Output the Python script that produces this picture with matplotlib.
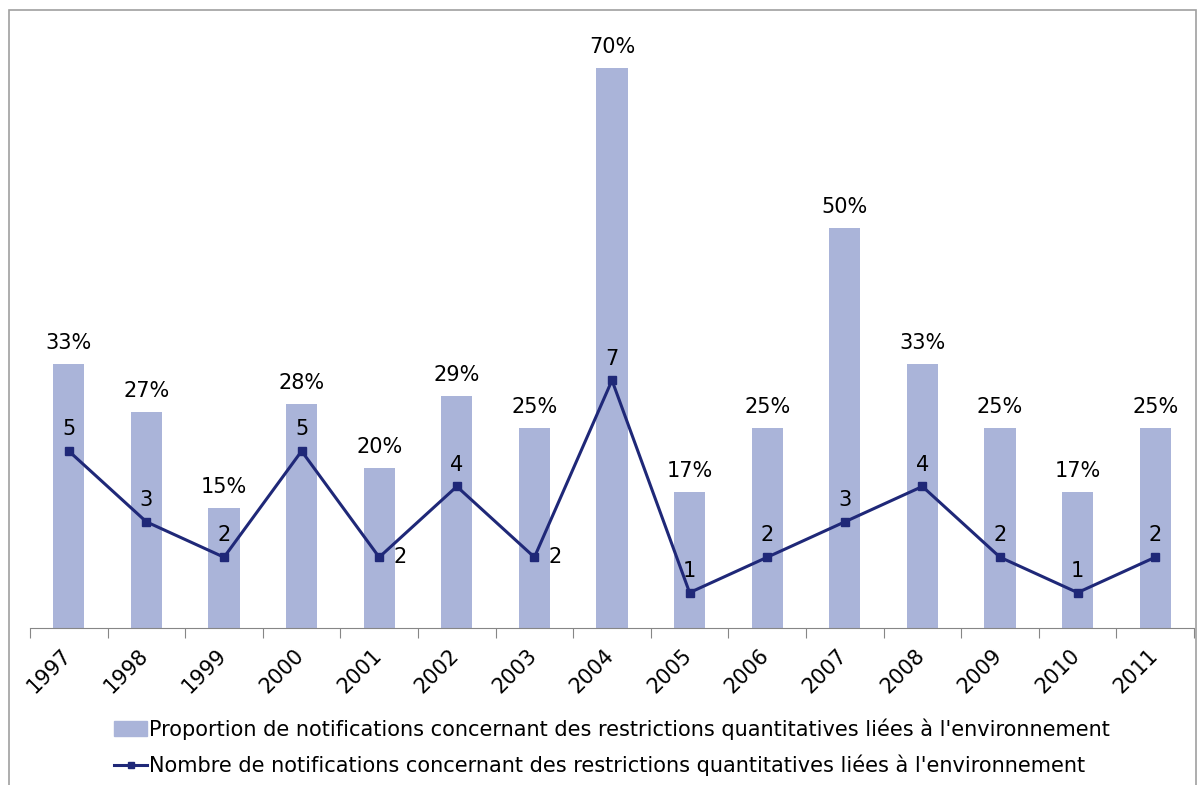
import matplotlib.pyplot as plt
import matplotlib.transforms as mtransforms
from matplotlib.patches import Rectangle

years = ['1997', '1998', '1999', '2000', '2001', '2002', '2003', '2004',
         '2005', '2006', '2007', '2008', '2009', '2010', '2011']
proportion = [33, 27, 15, 28, 20, 29, 25, 70, 17, 25, 50, 33, 25, 17, 25]
nombre = [5, 3, 2, 5, 2, 4, 2, 7, 1, 2, 3, 4, 2, 1, 2]
# placement of the count labels: 'up' above the marker, 'right' beside it
label_pos = ['up', 'up', 'up', 'up', 'right', 'up', 'right', 'up',
             'up', 'up', 'up', 'up', 'up', 'up', 'up']

bar_color = '#AAB4D9'
line_color = '#1F2878'
plt.rcParams['font.family'] = ['DejaVu Sans']
fs = 15

W, H = 1198, 785
fig = plt.figure(figsize=(W / 100, H / 100), dpi=100)
ax = fig.add_axes([30 / W, (H - 628) / H, (1194 - 30) / W, (628 - 30) / H])
ax2 = ax.twinx()

x = list(range(len(years)))
ax.bar(x, proportion, width=0.4, color=bar_color, zorder=2)
for xi, v in zip(x, proportion):
    ax.annotate(f'{v}%', (xi, v), xytext=(0, 8), textcoords='offset points',
                ha='center', va='bottom', fontsize=fs)
ax.set_ylim(0, 74.75)
ax.set_xlim(-0.5, len(years) - 0.5)

ax2.plot(x, nombre, color=line_color, lw=2.2, marker='s', markersize=6, zorder=3)
for xi, v, p in zip(x, nombre, label_pos):
    if p == 'up':
        ax2.annotate(str(v), (xi, v), xytext=(0, 8.5), textcoords='offset points',
                     ha='center', va='bottom', fontsize=fs)
    else:
        ax2.annotate(str(v), (xi, v), xytext=(10, 0), textcoords='offset points',
                     ha='left', va='center', fontsize=fs)
ax2.set_ylim(0, 16.9)

for a in (ax, ax2):
    for s in ['top', 'right', 'left']:
        a.spines[s].set_visible(False)
    a.set_yticks([])
ax.spines['bottom'].set_color('#868686')
ax2.spines['bottom'].set_visible(False)

ax.set_xticks([i - 0.5 for i in range(len(years) + 1)], minor=False)
ax.set_xticklabels([])
ax.tick_params(axis='x', which='major', length=7, color='#868686')
ax.set_xticks(x, minor=True)
ax.set_xticklabels(years, minor=True, rotation=45, fontsize=fs,
                   ha='right', va='top', rotation_mode='anchor')
ax.tick_params(axis='x', which='minor', length=0, pad=14)
shift = mtransforms.ScaledTranslation(-0.08, 0.02, fig.dpi_scale_trans)
for lbl in ax.get_xticklabels(minor=True):
    lbl.set_transform(lbl.get_transform() + shift)

handles = [Rectangle((0, 0), 1, 1, color=bar_color),
           plt.Line2D([], [], color=line_color, lw=2.2, marker='s', markersize=5)]
labels = ["Proportion de notifications concernant des restrictions quantitatives liées à l'environnement",
          "Nombre de notifications concernant des restrictions quantitatives liées à l'environnement"]
leg = fig.legend(handles, labels, loc='center', bbox_to_anchor=(612 / W, (H - 747) / H),
                 ncol=1, frameon=False, fontsize=15, handlelength=1.6,
                 handletextpad=0.1, labelspacing=0.7, borderaxespad=0)

fig.patches.append(Rectangle((9 / W, -0.01), (1196 - 9) / W, (H - 10) / H + 0.01,
                             transform=fig.transFigure, fill=False,
                             edgecolor='#A0A0A0', lw=1.2))

fig.savefig('out.png', dpi=100)
